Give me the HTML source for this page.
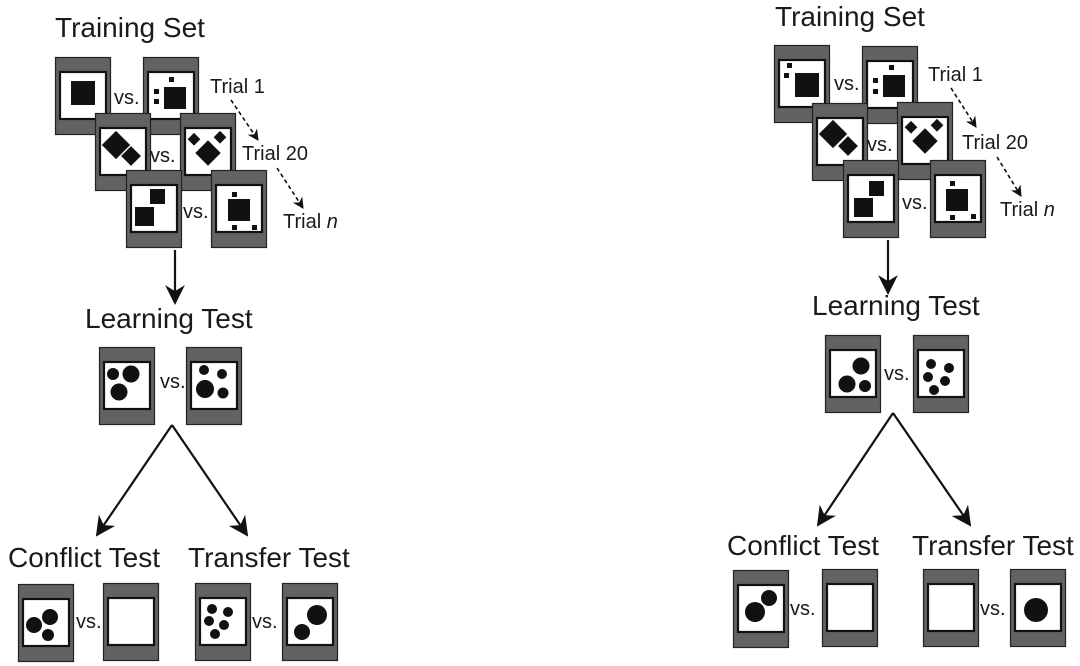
<!DOCTYPE html>
<html><head><meta charset="utf-8"><style>
html,body{margin:0;padding:0;background:#fff;}
svg{display:block;font-family:"Liberation Sans",Arial,sans-serif;}
.t{font-size:28px;fill:#1a1a1a;}
.s{font-size:20px;fill:#1a1a1a;}
.v{font-size:20px;fill:#1a1a1a;}
</style></head><body>
<svg width="1080" height="666" viewBox="0 0 1080 666" xmlns="http://www.w3.org/2000/svg">
<defs>
<g id="c">
<rect x="0.5" y="0.5" width="55" height="77" fill="#626262" stroke="#222" stroke-width="1.2"/>
<rect x="5" y="15" width="46" height="47" fill="#fff" stroke="#111" stroke-width="2.2"/>
</g>
<marker id="ah" viewBox="0 0 10 10" refX="9" refY="5" markerWidth="7" markerHeight="7" orient="auto"><path d="M0,0 L10,5 L0,10 L3,5z" fill="#111"/></marker>
<marker id="ah2" viewBox="0 0 10 10" refX="9" refY="5" markerWidth="9" markerHeight="9" orient="auto"><path d="M0,0 L10,5 L0,10 L3,5z" fill="#111"/></marker>
</defs>

<!-- LEFT PANEL -->
<text class="t" x="55" y="37">Training Set</text>
<g transform="translate(55,57)"><use href="#c"/><rect x="16" y="24" width="24" height="24" fill="#111"/></g>
<text class="v" x="114" y="104">vs.</text>
<g transform="translate(143,57)"><use href="#c"/><rect x="21" y="30" width="22" height="22" fill="#111"/><rect x="26" y="20" width="5" height="5" fill="#111"/><rect x="11" y="32" width="5" height="5" fill="#111"/><rect x="11" y="42" width="5" height="5" fill="#111"/></g>
<text class="s" x="210" y="93">Trial 1</text>

<g transform="translate(95,113)"><use href="#c"/><rect x="11" y="22" width="20" height="20" fill="#111" transform="rotate(45 21 32)"/><rect x="29" y="36" width="14" height="14" fill="#111" transform="rotate(45 36 43)"/></g>
<text class="v" x="150" y="162">vs.</text>
<g transform="translate(180,113)"><use href="#c"/><rect x="9" y="22" width="9" height="9" fill="#111" transform="rotate(45 14 27)"/><rect x="35" y="20" width="9" height="9" fill="#111" transform="rotate(45 40 25)"/><rect x="19" y="31" width="18" height="18" fill="#111" transform="rotate(45 28 40)"/></g>
<text class="s" x="242" y="160">Trial 20</text>

<g transform="translate(126,170)"><use href="#c"/><rect x="24" y="19" width="15" height="15" fill="#111"/><rect x="9" y="37" width="19" height="19" fill="#111"/></g>
<text class="v" x="183" y="218">vs.</text>
<g transform="translate(211,170)"><use href="#c"/><rect x="17" y="29" width="22" height="22" fill="#111"/><rect x="21" y="22" width="5" height="5" fill="#111"/><rect x="21" y="55" width="5" height="5" fill="#111"/><rect x="41" y="55" width="5" height="5" fill="#111"/></g>
<text class="s" x="283" y="228">Trial <tspan font-style="italic">n</tspan></text>

<line x1="231" y1="100" x2="258" y2="140" stroke="#111" stroke-width="1.6" stroke-dasharray="4,3" marker-end="url(#ah)"/>
<line x1="277" y1="168" x2="303" y2="208" stroke="#111" stroke-width="1.6" stroke-dasharray="4,3" marker-end="url(#ah)"/>
<line x1="175" y1="250" x2="175" y2="303" stroke="#111" stroke-width="2.2" marker-end="url(#ah2)"/>

<text class="t" x="85" y="328">Learning Test</text>
<g transform="translate(99,347)"><use href="#c"/><circle cx="14" cy="27" r="6" fill="#111"/><circle cx="32" cy="27" r="8.5" fill="#111"/><circle cx="20" cy="45" r="8.5" fill="#111"/></g>
<text class="v" x="160" y="388">vs.</text>
<g transform="translate(186,347)"><use href="#c"/><circle cx="18" cy="23" r="5" fill="#111"/><circle cx="36" cy="27" r="5" fill="#111"/><circle cx="19" cy="42" r="9" fill="#111"/><circle cx="37" cy="46" r="5.5" fill="#111"/></g>

<line x1="172" y1="425" x2="97" y2="535" stroke="#111" stroke-width="2.2" marker-end="url(#ah2)"/>
<line x1="172" y1="425" x2="247" y2="535" stroke="#111" stroke-width="2.2" marker-end="url(#ah2)"/>

<text class="t" x="8" y="567">Conflict Test</text>
<text class="t" x="188" y="567">Transfer Test</text>
<g transform="translate(18,584)"><use href="#c"/><circle cx="16" cy="41" r="8" fill="#111"/><circle cx="32" cy="33" r="8" fill="#111"/><circle cx="30" cy="51" r="6" fill="#111"/></g>
<text class="v" x="76" y="628">vs.</text>
<g transform="translate(103,583)"><use href="#c"/></g>
<g transform="translate(195,583)"><use href="#c"/><circle cx="17" cy="26" r="5" fill="#111"/><circle cx="33" cy="29" r="5" fill="#111"/><circle cx="14" cy="38" r="5" fill="#111"/><circle cx="29" cy="42" r="5" fill="#111"/><circle cx="20" cy="51" r="5" fill="#111"/></g>
<text class="v" x="252" y="628">vs.</text>
<g transform="translate(282,583)"><use href="#c"/><circle cx="35" cy="32" r="10" fill="#111"/><circle cx="20" cy="49" r="8" fill="#111"/></g>

<!-- RIGHT PANEL -->
<text class="t" x="775" y="26">Training Set</text>
<g transform="translate(774,45)"><use href="#c"/><rect x="21" y="28" width="24" height="24" fill="#111"/><rect x="13" y="18" width="5" height="5" fill="#111"/><rect x="10" y="28" width="5" height="5" fill="#111"/></g>
<text class="v" x="834" y="90">vs.</text>
<g transform="translate(862,46)"><use href="#c"/><rect x="21" y="29" width="22" height="22" fill="#111"/><rect x="27" y="19" width="5" height="5" fill="#111"/><rect x="11" y="32" width="5" height="5" fill="#111"/><rect x="11" y="43" width="5" height="5" fill="#111"/></g>
<text class="s" x="928" y="81">Trial 1</text>

<g transform="translate(812,103)"><use href="#c"/><rect x="11" y="21" width="20" height="20" fill="#111" transform="rotate(45 21 31)"/><rect x="29" y="36" width="14" height="14" fill="#111" transform="rotate(45 36 43)"/></g>
<text class="v" x="867" y="151">vs.</text>
<g transform="translate(897,102)"><use href="#c"/><rect x="9" y="21" width="9" height="9" fill="#111" transform="rotate(45 14 26)"/><rect x="35" y="19" width="9" height="9" fill="#111" transform="rotate(45 40 24)"/><rect x="19" y="30" width="18" height="18" fill="#111" transform="rotate(45 28 39)"/></g>
<text class="s" x="962" y="149">Trial 20</text>

<g transform="translate(843,160)"><use href="#c"/><rect x="26" y="21" width="15" height="15" fill="#111"/><rect x="11" y="38" width="19" height="19" fill="#111"/></g>
<text class="v" x="902" y="209">vs.</text>
<g transform="translate(930,160)"><use href="#c"/><rect x="16" y="29" width="22" height="22" fill="#111"/><rect x="20" y="21" width="5" height="5" fill="#111"/><rect x="20" y="55" width="5" height="5" fill="#111"/><rect x="41" y="54" width="5" height="5" fill="#111"/></g>
<text class="s" x="1000" y="216">Trial <tspan font-style="italic">n</tspan></text>

<line x1="951" y1="88" x2="976" y2="127" stroke="#111" stroke-width="1.6" stroke-dasharray="4,3" marker-end="url(#ah)"/>
<line x1="997" y1="157" x2="1021" y2="196" stroke="#111" stroke-width="1.6" stroke-dasharray="4,3" marker-end="url(#ah)"/>
<line x1="888" y1="240" x2="888" y2="293" stroke="#111" stroke-width="2.2" marker-end="url(#ah2)"/>

<text class="t" x="812" y="315">Learning Test</text>
<g transform="translate(825,335)"><use href="#c"/><circle cx="36" cy="31" r="8.5" fill="#111"/><circle cx="22" cy="49" r="8.5" fill="#111"/><circle cx="40" cy="51" r="6" fill="#111"/></g>
<text class="v" x="884" y="380">vs.</text>
<g transform="translate(913,335)"><use href="#c"/><circle cx="18" cy="29" r="5" fill="#111"/><circle cx="36" cy="33" r="5" fill="#111"/><circle cx="15" cy="42" r="5" fill="#111"/><circle cx="32" cy="46" r="5" fill="#111"/><circle cx="21" cy="55" r="5" fill="#111"/></g>

<line x1="893" y1="413" x2="818" y2="525" stroke="#111" stroke-width="2.2" marker-end="url(#ah2)"/>
<line x1="893" y1="413" x2="970" y2="525" stroke="#111" stroke-width="2.2" marker-end="url(#ah2)"/>

<text class="t" x="727" y="555">Conflict Test</text>
<text class="t" x="912" y="555">Transfer Test</text>
<g transform="translate(733,570)"><use href="#c"/><circle cx="22" cy="42" r="10" fill="#111"/><circle cx="36" cy="28" r="8" fill="#111"/></g>
<text class="v" x="790" y="615">vs.</text>
<g transform="translate(822,569)"><use href="#c"/></g>
<g transform="translate(923,569)"><use href="#c"/></g>
<text class="v" x="980" y="615">vs.</text>
<g transform="translate(1010,569)"><use href="#c"/><circle cx="26" cy="41" r="12" fill="#111"/></g>
</svg>
</body></html>
